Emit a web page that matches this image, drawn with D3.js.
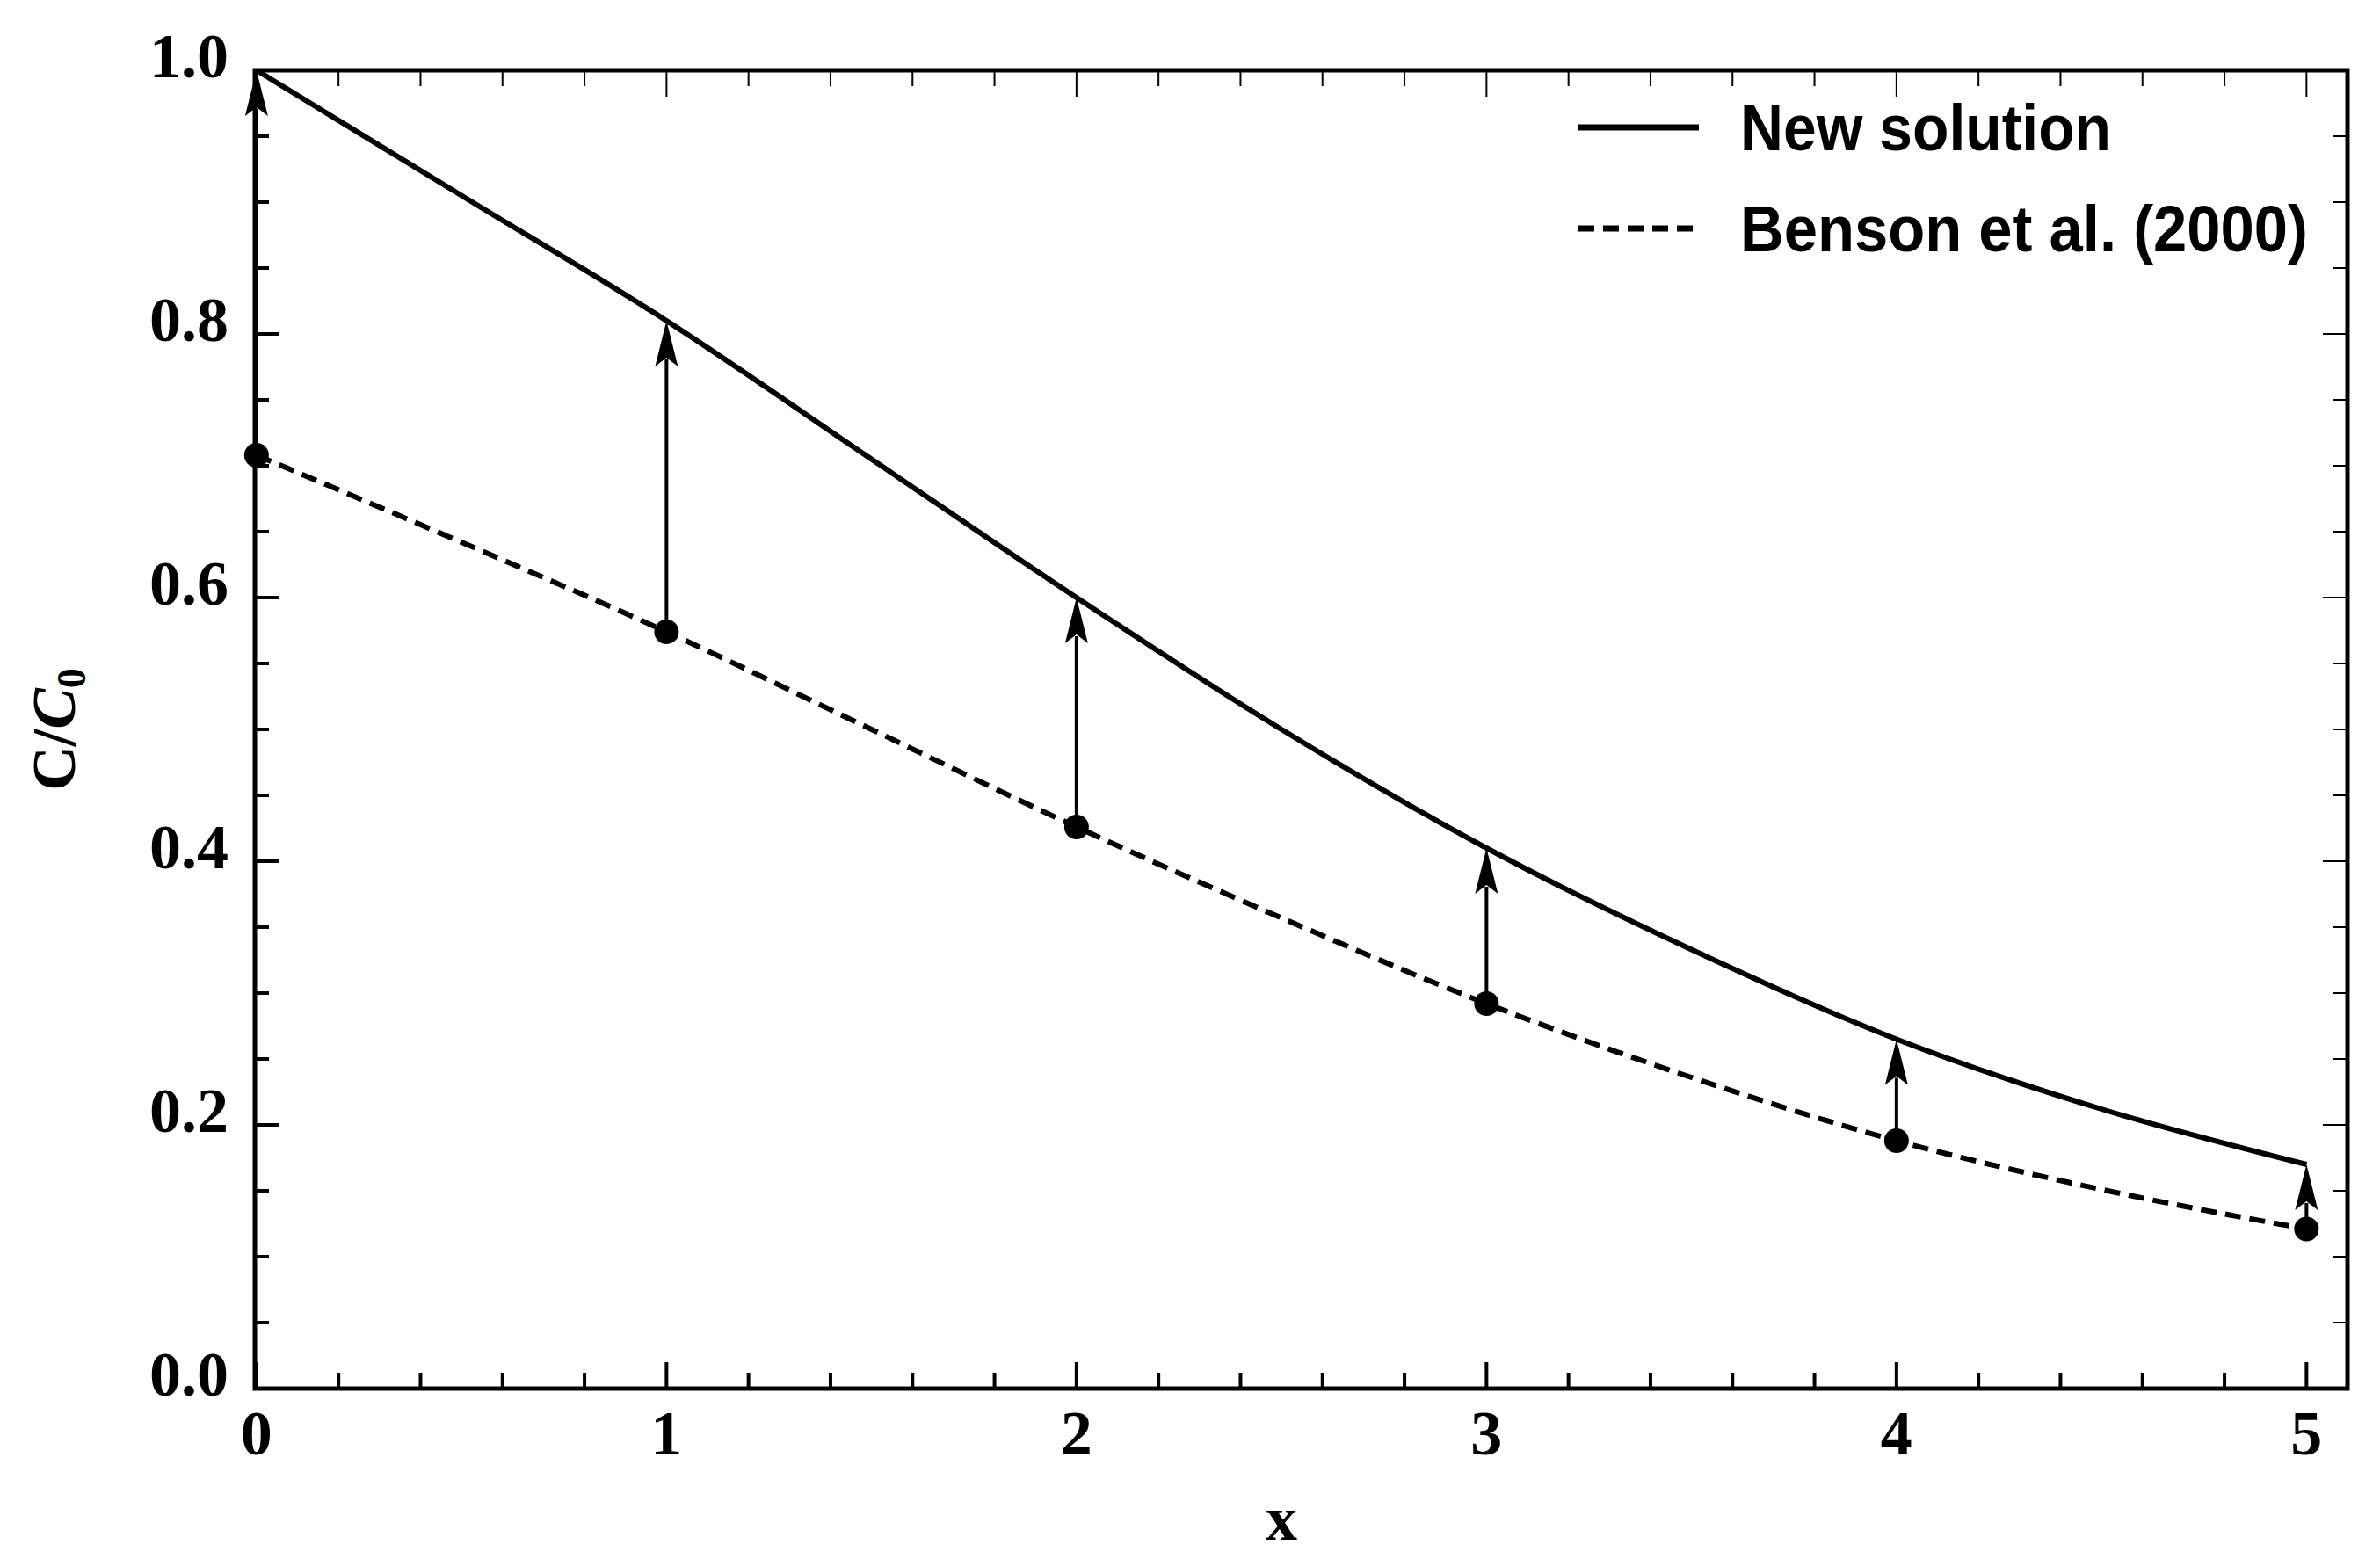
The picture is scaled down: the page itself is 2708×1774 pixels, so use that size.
<!DOCTYPE html>
<html><head><meta charset="utf-8">
<script src="https://cdn.jsdelivr.net/npm/d3@7"></script>
<style>body{margin:0;background:#fff}</style>
</head><body>
<script>
// values
const xs = [0, 0.5, 1, 1.5, 2, 2.5, 3, 3.5, 4, 4.5, 5];
const newSolution = [1.0, 0.905, 0.81, 0.705, 0.60, 0.50, 0.41, 0.333, 0.265, 0.212, 0.17];
const benson = [0.708, 0.642, 0.574, 0.500, 0.426, 0.357, 0.292, 0.236, 0.188, 0.151, 0.121];
const markX = [0, 1, 2, 3, 4, 5];
const xTicks = [0, 1, 2, 3, 4, 5];
const yTicks = [0, 0.2, 0.4, 0.6, 0.8, 1.0];

const W = 2708, H = 1774;
const m = {left: 290, right: 2671, top: 80, bottom: 1580};
const x = d3.scaleLinear().domain([-0.004, 5.1]).range([m.left, m.right]);
const y = d3.scaleLinear().domain([0, 1]).range([m.bottom, m.top]);

const svg = d3.select('body').append('svg').attr('width', W).attr('height', H);

const serif = '"Liberation Serif", "Times New Roman", serif';
const sans = '"Liberation Sans", Arial, sans-serif';

// minor/major ticks on all four sides
const xMinor = d3.range(0, 5.01, 0.2);
const yMinor = d3.range(0, 1.001, 0.05);
const tk = svg.append('g').attr('stroke', '#000');
xMinor.forEach(v => {
  const major = Math.abs(v - Math.round(v)) < 1e-6;
  const len = major ? 30 : 18;
  tk.append('line').attr('x1', x(v)).attr('x2', x(v)).attr('y1', m.bottom).attr('y2', m.bottom - len).attr('stroke-width', 4);
  tk.append('line').attr('x1', x(v)).attr('x2', x(v)).attr('y1', m.top).attr('y2', m.top + len).attr('stroke-width', 2);
});
yMinor.forEach(v => {
  const major = Math.abs(v * 5 - Math.round(v * 5)) < 1e-6;
  const len = major ? 28 : 16;
  tk.append('line').attr('x1', m.left).attr('x2', m.left + len).attr('y1', y(v)).attr('y2', y(v)).attr('stroke-width', 4);
  tk.append('line').attr('x1', m.right).attr('x2', m.right - len).attr('y1', y(v)).attr('y2', y(v)).attr('stroke-width', 2);
});

svg.append('rect').attr('x', m.left).attr('y', m.top)
  .attr('width', m.right - m.left).attr('height', m.bottom - m.top)
  .attr('fill', 'none').attr('stroke', '#000').attr('stroke-width', 5);

// tick labels
svg.append('g').selectAll('text').data(xTicks).join('text')
  .attr('x', d => x(d)).attr('y', m.bottom + 75)
  .attr('text-anchor', 'middle').attr('font-family', serif).attr('font-weight', 'bold')
  .attr('font-size', 72).text(d => d);
svg.append('g').selectAll('text').data(yTicks).join('text')
  .attr('x', m.left - 30).attr('y', d => y(d) + 8)
  .attr('text-anchor', 'end').attr('font-family', serif).attr('font-weight', 'bold')
  .attr('font-size', 72).text(d => d.toFixed(1));

// axis titles
svg.append('text').attr('x', x(2.5)).attr('y', 1752).attr('text-anchor', 'middle')
  .attr('font-family', serif).attr('font-weight', 'bold').attr('font-size', 72).text('x');
const yl = svg.append('text').attr('transform', `translate(85,${y(0.5)}) rotate(-90)`)
  .attr('text-anchor', 'middle').attr('font-family', serif).attr('font-weight', 'bold').attr('font-size', 70);
yl.append('tspan').text('C/');
yl.append('tspan').attr('font-style', 'italic').text('C');
yl.append('tspan').attr('font-size', 46).attr('dy', 12).text('0');

// curves
const line = d3.line().x((d, i) => x(xs[i])).y(d => y(d)).curve(d3.curveMonotoneX);
svg.append('path').attr('d', line(newSolution)).attr('fill', 'none').attr('stroke', '#000').attr('stroke-width', 6);
svg.append('path').attr('d', line(benson)).attr('fill', 'none').attr('stroke', '#000')
  .attr('stroke-width', 6).attr('stroke-dasharray', '18,10');

// arrows
const at = v => xs.indexOf(v);
const ag = svg.append('g');
markX.forEach(v => {
  const x0 = x(v), yb = y(benson[at(v)]), yt = y(newSolution[at(v)]);
  ag.append('line').attr('x1', x0).attr('x2', x0).attr('y1', yb).attr('y2', yt + 44)
    .attr('stroke', '#000').attr('stroke-width', 4);
  ag.append('path').attr('d', `M${x0},${yt} L${x0 - 13},${yt + 52} L${x0},${yt + 42} L${x0 + 13},${yt + 52} Z`).attr('fill', '#000');
  ag.append('circle').attr('cx', x0).attr('cy', yb).attr('r', 14).attr('fill', '#000');
});

// legend
const lg = svg.append('g');
[['New solution', null, 145, 422], ['Benson et al. (2000)', '18,10', 260, 646]].forEach(([t, dash, ly, len]) => {
  lg.append('line').attr('x1', 1796).attr('x2', 1933).attr('y1', ly).attr('y2', ly)
    .attr('stroke', '#000').attr('stroke-width', 7).attr('stroke-dasharray', dash);
  lg.append('text').attr('x', 1980).attr('y', ly + 26).attr('font-family', sans).attr('font-weight', 'bold')
    .attr('font-size', 74).attr('textLength', len).attr('lengthAdjust', 'spacingAndGlyphs').text(t);
});
</script>
</body></html>
